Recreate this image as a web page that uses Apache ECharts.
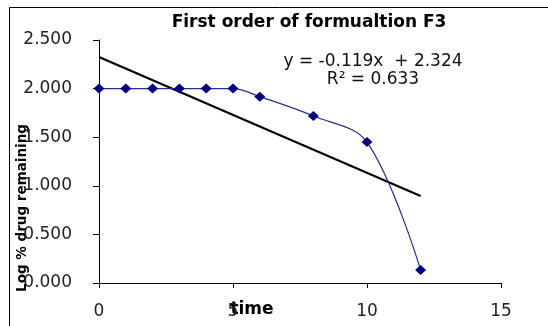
<!DOCTYPE html>
<html>
<head>
<meta charset="utf-8">
<script src="https://cdn.jsdelivr.net/npm/echarts@6/dist/echarts.min.js"></script>
<style>
  html, body { margin: 0; padding: 0; background: #fff; }
  #main { width: 548px; height: 326px; }
</style>
</head>
<body>
<div id="main"></div>
<script>
// F3 first order data
var timeX = [0, 1, 2, 3, 4, 5, 6, 8, 10, 12];
var logRemaining = [2.000, 2.000, 2.000, 2.000, 2.000, 2.000, 1.917, 1.718, 1.450, 0.134];
// linear trendline ends (y = -0.119x + 2.324)
var trendX = [0, 12];
var trendY = [2.324, 0.896];
var titleText = 'First order of formualtion F3';
var eqText = 'y = -0.119x  + 2.324';
var r2Text = 'R\u00b2 = 0.633';

var font = '"DejaVu Sans", sans-serif';

var dom = document.getElementById('main');
var myChart = echarts.init(dom);

var pts = timeX.map(function (x, i) { return [x, logRemaining[i]]; });
var trend = trendX.map(function (x, i) { return [x, trendY[i]]; });

myChart.setOption({
    animation: false,
    backgroundColor: '#fff',
    grid: {
        left: 99,
        right: 47,
        top: 40,
        bottom: 43
    },
    xAxis: {
        type: 'value',
        min: 0,
        max: 15,
        interval: 5,
        splitLine: { show: false },
        axisLine: { lineStyle: { color: '#000', width: 1 } },
        axisTick: { show: true, inside: false, length: 5, lineStyle: { color: '#000' } },
        axisLabel: { color: '#222', fontSize: 17, fontFamily: font, margin: 20 }
    },
    yAxis: {
        type: 'value',
        min: 0,
        max: 2.5,
        interval: 0.5,
        splitLine: { show: false },
        axisLine: { show: true, lineStyle: { color: '#000', width: 1 } },
        axisTick: { show: true, inside: false, length: 6, lineStyle: { color: '#000' } },
        axisLabel: {
            color: '#222', fontSize: 17, fontFamily: font, margin: 27,
            formatter: function (v) { return v.toFixed(3); }
        }
    },
    graphic: [
        {
            type: 'rect',
            shape: { x: 9.5, y: 7.5, width: 700, height: 500 },
            style: { fill: 'none', stroke: '#000', lineWidth: 1 }
        },
        {
            type: 'text', x: 309, y: 23,
            style: { text: titleText, font: 'bold 17px ' + font, fill: '#000', align: 'center', verticalAlign: 'middle' }
        },
        {
            type: 'text', x: 373, y: 62,
            style: { text: eqText, font: '17px ' + font, fill: '#111', align: 'center', verticalAlign: 'middle' }
        },
        {
            type: 'text', x: 373, y: 80,
            style: { text: r2Text, font: '17px ' + font, fill: '#111', align: 'center', verticalAlign: 'middle' }
        },
        {
            type: 'text', x: 252, y: 310,
            style: { text: 'time', font: 'bold 17px ' + font, fill: '#000', align: 'center', verticalAlign: 'middle' }
        },
        {
            type: 'text', x: 22, y: 208, rotation: Math.PI / 2,
            style: { text: 'Log % drug remaining', font: 'bold 13.5px ' + font, fill: '#000', align: 'center', verticalAlign: 'middle' }
        }
    ],
    series: [
        {
            name: 'F3',
            type: 'line',
            data: pts,
            smooth: 0.35,
            symbol: 'diamond',
            symbolSize: [11, 10],
            itemStyle: { color: '#000080' },
            lineStyle: { color: '#2a2a96', width: 1.2 },
            z: 3
        },
        {
            name: 'Linear (F3)',
            type: 'line',
            data: trend,
            symbol: 'none',
            lineStyle: { color: '#000', width: 2.2 },
            z: 2
        }
    ]
});
window.addEventListener('resize', function () {
    myChart.resize();
});
</script>
</body>
</html>
